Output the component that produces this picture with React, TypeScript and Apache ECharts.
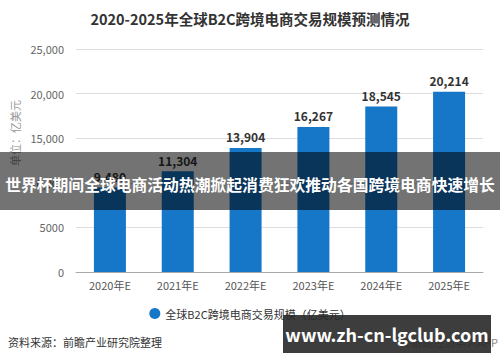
import React, { useEffect, useRef } from "react";
import * as echarts from "echarts";

const categories = ["2020年E", "2021年E", "2022年E", "2023年E", "2024年E", "2025年E"];
const values = [9480, 11304, 13904, 16267, 18545, 20214];
const titleText = "2020-2025年全球B2C跨境电商交易规模预测情况";
const seriesName = "全球B2C跨境电商交易规模（亿美元）";
const bannerText = "世界杯期间全球电商活动热潮掀起消费狂欢推动各国跨境电商快速增长";
const sourceText = "资料来源：前瞻产业研究院整理";
const unitText = "单位：亿美元";
const siteText = "www.zh-cn-lgclub.com";
const copyText = "©前瞻经济学人APP";

const FONT = "'Noto Sans CJK SC', 'Noto Sans', sans-serif";

export default function App() {
  const ref = useRef<HTMLDivElement>(null);
  useEffect(() => {
    document.body.style.margin = "0";
    if (!ref.current) return;
    const chart = echarts.init(ref.current, undefined, { renderer: "svg" });
    chart.setOption({
      animation: false,
      backgroundColor: "#ffffff",
      textStyle: { fontFamily: FONT },
      title: {
        text: titleText,
        left: "center",
        top: 6,
        textStyle: { fontSize: 14.5, fontWeight: "bold", color: "#333", fontFamily: FONT },
      },
      grid: { left: 76, right: 17, top: 49, bottom: 90, containLabel: false },
      legend: {
        bottom: 38,
        left: "center",
        icon: "circle",
        itemWidth: 11,
        itemHeight: 11,
        itemGap: 6,
        textStyle: { fontSize: 11, color: "#333", fontFamily: FONT },
        data: [seriesName],
      },
      xAxis: {
        type: "category",
        data: categories,
        axisLine: { lineStyle: { color: "#aaa" } },
        axisTick: { alignWithLabel: true, lineStyle: { color: "#aaa" } },
        axisLabel: { color: "#555", fontSize: 11, margin: 7, fontFamily: FONT },
      },
      yAxis: {
        type: "value",
        min: 0,
        max: 25000,
        interval: 5000,
        axisLine: { show: false },
        axisTick: { show: false },
        splitLine: { lineStyle: { color: "#ddd" } },
        axisLabel: {
          color: "#666",
          fontSize: 11,
          margin: 12,
          fontFamily: FONT,
          formatter: (v: number) => (v >= 10000 ? v.toLocaleString("en-US") : String(v)),
        },
      },
      series: [
        {
          name: seriesName,
          type: "bar",
          data: values,
          barWidth: 32,
          itemStyle: { color: "#1677c8" },
          label: {
            show: true,
            position: "top",
            distance: 5,
            color: "#333",
            fontSize: 12,
            fontWeight: "bold",
            fontFamily: FONT,
            formatter: (p: any) => Number(p.value).toLocaleString("en-US"),
          },
        },
      ],
      graphic: [
        {
          type: "text",
          x: 15,
          y: 133,
          rotation: Math.PI / 2,
          style: {
            text: unitText,
            fill: "#999",
            font: `11px ${FONT}`,
            textAlign: "center",
            textVerticalAlign: "middle",
          },
          z: 10,
        },
        {
          type: "rect",
          shape: { x: 0, y: 152, width: 500, height: 58 },
          style: { fill: "rgba(0,0,0,0.55)" },
          z: 100,
        },
        {
          type: "text",
          x: 250,
          y: 184,
          style: {
            text: bannerText,
            fill: "#fff",
            font: `bold 15.8px ${FONT}`,
            textAlign: "center",
            textVerticalAlign: "middle",
          },
          z: 101,
        },
        {
          type: "text",
          x: 8,
          y: 342,
          style: {
            text: sourceText,
            fill: "#333",
            font: `11px ${FONT}`,
            textAlign: "left",
            textVerticalAlign: "middle",
          },
          z: 10,
        },
        {
          type: "text",
          x: 498,
          y: 342,
          style: {
            text: copyText,
            fill: "#888",
            font: `11px ${FONT}`,
            textAlign: "right",
            textVerticalAlign: "middle",
          },
          z: 10,
        },
        {
          type: "rect",
          shape: { x: 283, y: 315, width: 208, height: 38 },
          style: { fill: "rgba(40,40,40,0.9)" },
          z: 100,
        },
        {
          type: "text",
          x: 387,
          y: 334,
          style: {
            text: siteText,
            fill: "#fff",
            font: `bold 18px ${FONT}`,
            textAlign: "center",
            textVerticalAlign: "middle",
          },
          z: 101,
        },
      ],
    });
    return () => chart.dispose();
  }, []);
  return <div ref={ref} style={{ width: 500, height: 362 }} />;
}
